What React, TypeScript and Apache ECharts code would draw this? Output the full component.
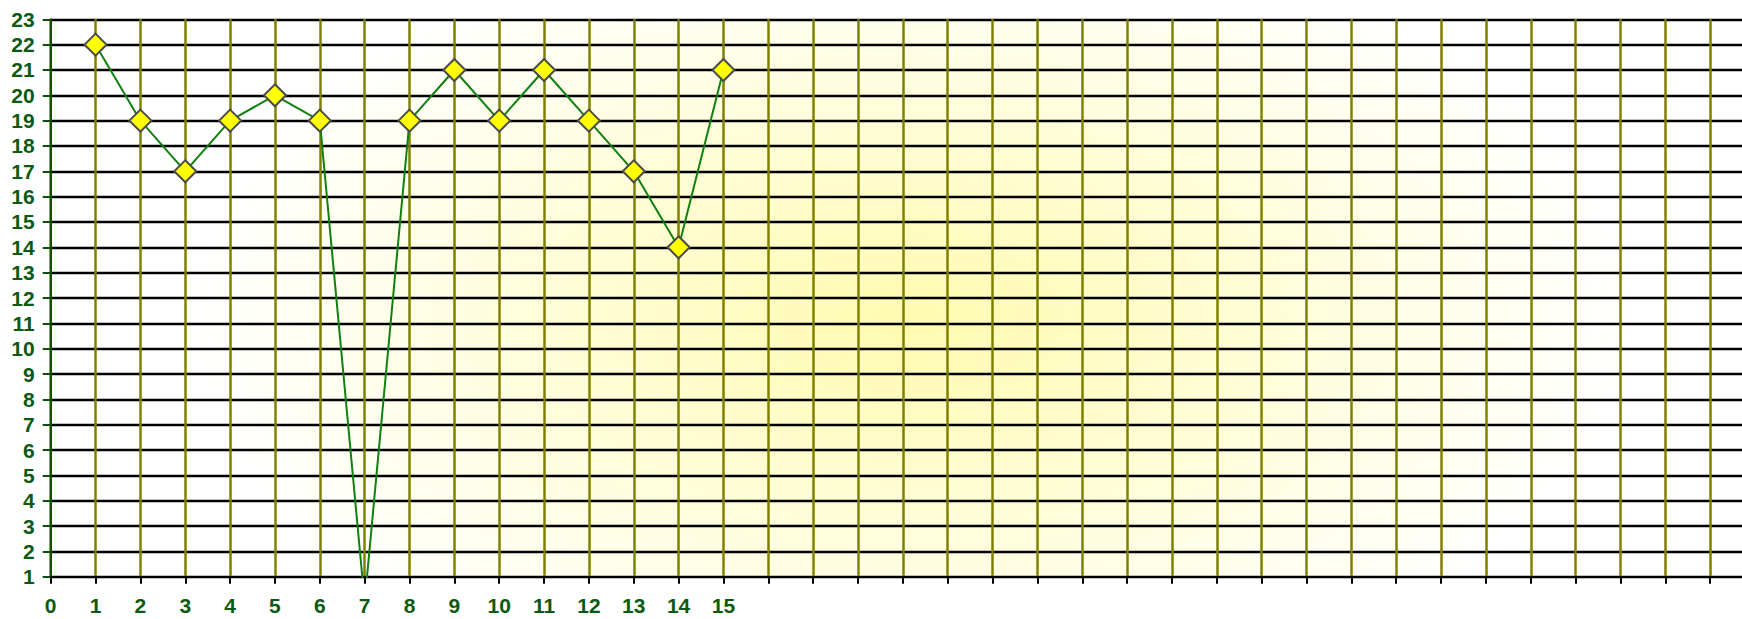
import React, { useEffect, useRef } from "react";
import * as echarts from "echarts";

const xValues = [1, 2, 3, 4, 5, 6, 7, 8, 9, 10, 11, 12, 13, 14, 15];
const yValues = [22, 19, 17, 19, 20, 19, 0, 19, 21, 19, 21, 19, 17, 14, 21];
const lastLabeledX = 15;

export default function App() {
  const ref = useRef<HTMLDivElement>(null);
  useEffect(() => {
    if (!ref.current) return;
    const chart = echarts.init(ref.current, undefined, { renderer: "svg" });
    const labelStyle = {
      color: "#0b5a12",
      fontFamily: "Liberation Sans, Arial, sans-serif",
      fontWeight: "bold" as const,
      fontSize: 21,
    };
    chart.setOption({
      animation: false,
      backgroundColor: "transparent",
      grid: { left: 50.7, top: 19.3, bottom: 42.3, right: 1, containLabel: false },
      xAxis: {
        type: "value",
        min: 0,
        max: 38,
        interval: 1,
        axisLine: { show: true, onZero: false, lineStyle: { color: "#000", width: 2 } },
        axisTick: { show: true, length: 7, lineStyle: { color: "#000", width: 2 } },
        axisLabel: {
          ...labelStyle,
          margin: 18,
          showMaxLabel: false,
          formatter: (v: number) => (v <= lastLabeledX ? String(v) : ""),
        },
        splitLine: { show: true, lineStyle: { color: "#808000", width: 2.5 } },
      },
      yAxis: {
        type: "value",
        min: 1,
        max: 23,
        interval: 1,
        axisLine: { show: true, lineStyle: { color: "#0b4f0b", width: 2 } },
        axisTick: { show: true, length: 8, lineStyle: { color: "#0b4f0b", width: 2 } },
        axisLabel: { ...labelStyle, margin: 16 },
        splitLine: { show: true, lineStyle: { color: "#000", width: 2.3 } },
      },
      series: [
        {
          type: "line",
          data: xValues.map((x, i) => [x, yValues[i]]),
          clip: true,
          lineStyle: { color: "#108010", width: 2 },
          symbol: "diamond",
          symbolSize: 22,
          itemStyle: { color: "#ffff00", borderColor: "#4a4a4a", borderWidth: 2 },
          z: 5,
        },
      ],
    });
    return () => chart.dispose();
  }, []);
  return (
    <div
      style={{
        position: "absolute",
        left: 0,
        top: 0,
        width: 1742,
        height: 619,
        overflow: "hidden",
        background: "#fff",
      }}
    >
      <div
        style={{
          position: "absolute",
          left: 51,
          top: 19,
          width: 1691,
          height: 558,
          background:
            "radial-gradient(ellipse 720px 400px at 860px 300px, #fffbb0 0%, #fffdd4 45%, #ffffff 100%)",
        }}
      />
      <div ref={ref} style={{ position: "absolute", left: 0, top: 0, width: 1756, height: 619 }} />
    </div>
  );
}
